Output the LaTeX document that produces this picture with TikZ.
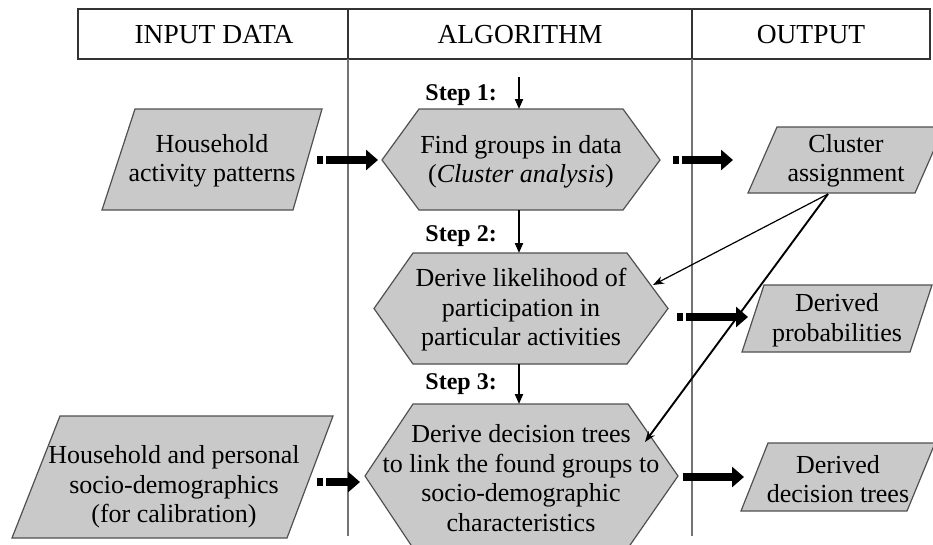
\documentclass[tikz,border=0pt]{standalone}
\usepackage{fontspec}
\setmainfont{Liberation Serif}
\usetikzlibrary{arrows.meta}
\definecolor{boxfill}{RGB}{201,201,201}
\definecolor{boxline}{RGB}{80,80,80}
\definecolor{divline}{RGB}{115,115,115}
\begin{document}
\begin{tikzpicture}[x=1pt,y=-1pt,
  shapebox/.style={fill=boxfill,draw=boxline,line width=1.2pt,line join=miter},
  body/.style={font=\fontsize{26}{29.5}\selectfont,align=center,inner sep=0pt},
  head/.style={font=\fontsize{27.5}{30}\selectfont,inner sep=0pt},
  steplabel/.style={font=\fontsize{24}{26}\selectfont\bfseries,inner sep=0pt,anchor=east},
  bigarrow/.style={line width=8.5pt,-{Triangle[length=12pt,width=20pt]}},
  tailed/.style={dash pattern=on 6pt off 3pt on 400pt off 1pt},
  steparrow/.style={line width=2pt,-{Triangle[length=10pt,width=8pt]}},
  linkarrow/.style={-{Stealth[length=11pt,width=8pt]}},
]
\clip (0,0) rectangle (933,544);

% header row and column dividers
\draw[line width=1.2pt,black!80] (78,9) rectangle (930,59);
\draw[line width=1.2pt,black!80] (348,9) -- (348,59) (692,9) -- (692,59);
\draw[line width=1.3pt,divline] (348,59) -- (348,536) (692,59) -- (692,536);
\node[head] (hin)  at (214,35) {INPUT DATA};
\node[head] (halg) at (520,35) {ALGORITHM};
\node[head] (hout) at (811,35) {OUTPUT};

% input parallelograms
\draw[shapebox] (102,210) -- (135,109) -- (322,109) -- (293,210) -- cycle;
\coordinate (p1e) at (317,160);
\draw[shapebox] (12,538) -- (60,416) -- (333,416) -- (287,538) -- cycle;
\coordinate (p2e) at (317,482);

% algorithm hexagons
\draw[shapebox] (382,160) -- (419,109) -- (623,109) -- (660,160) -- (623,210) -- (419,210) -- cycle;
\coordinate (h1w) at (378,160); \coordinate (h1e) at (673,160);
\coordinate (h1n) at (519,109); \coordinate (h1s) at (519,210);
\draw[shapebox] (374,308.5) -- (413,253) -- (627,253) -- (668,308.5) -- (627,364) -- (413,364) -- cycle;
\coordinate (h2n) at (519,253); \coordinate (h2s) at (519,364);
\coordinate (h2e) at (677,317); \coordinate (h2ne) at (653,285);
\draw[shapebox] (365,476) -- (413,404) -- (628,404) -- (678,476) -- (628,548) -- (413,548) -- cycle;
\coordinate (h3n) at (519,404); \coordinate (h3w) at (360,482);
\coordinate (h3e) at (683,477); \coordinate (h3ne) at (645,442);

% output parallelograms
\draw[shapebox] (748,193) -- (777,127) -- (944,127) -- (915,193) -- cycle;
\coordinate (ow1) at (733,160); \coordinate (cbot) at (828,194);
\draw[shapebox] (742,352) -- (764,285) -- (932,285) -- (910,352) -- cycle;
\coordinate (ow2) at (748,317);
\draw[shapebox] (741,511) -- (768,443) -- (935,443) -- (907,511) -- cycle;
\coordinate (ow3) at (744,477);

% texts
\node[body] (tp1) at (212,161) {Household\\activity patterns};
\node[body] (tp2) at (174,487) {Household and personal\\socio-demographics\\(for calibration)};
\node[body] (th1) at (521,162) {Find groups in data\\(\textit{Cluster analysis}\/)};
\node[body] (th2) at (521,310) {Derive likelihood of\\participation in\\particular activities};
\node[body] (th3) at (521,478) {Derive decision trees\\to link the found groups to\\socio-demographic\\characteristics};
\node[body] (tc)  at (846,161) {Cluster\\assignment};
\node[body] (td)  at (837,320) {Derived\\probabilities};
\node[body] (te)  at (838,479) {Derived\\decision trees};

% step labels and the arrows into each step
\coordinate (s1top) at (519,77);
\node[steplabel] (s1) at (497,95)  {Step 1:};
\node[steplabel] (s2) at (497,236) {Step 2:};
\node[steplabel] (s3) at (497,384) {Step 3:};
\draw[steparrow] (s1top) -- (h1n);
\draw[steparrow] (h1s) -- (h2n);
\draw[steparrow] (h2s) -- (h3n);

% data flow arrows
\draw[bigarrow,tailed] (p1e) -- (h1w);
\draw[bigarrow,tailed] (h1e) -- (ow1);
\draw[bigarrow,tailed] (h2e) -- (ow2);
\draw[bigarrow,tailed] (p2e) -- (h3w);
\draw[bigarrow] (h3e) -- (ow3);

% cluster assignment feeds steps 2 and 3
\draw[linkarrow,line width=1.2pt] (cbot) -- (h2ne);
\draw[linkarrow,line width=1.9pt] (cbot) -- (h3ne);
\end{tikzpicture}
\end{document}
